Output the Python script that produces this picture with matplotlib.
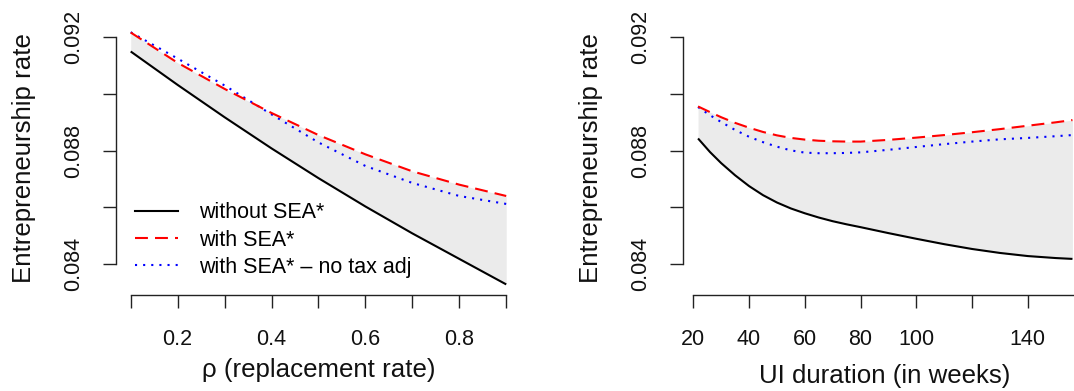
import matplotlib
matplotlib.use("Agg")
import matplotlib.pyplot as plt
from matplotlib.lines import Line2D

plt.rcParams['font.family'] = ['Liberation Sans', 'DejaVu Sans']

# ---------------- data ----------------
rho = [0.1, 0.2, 0.3, 0.4, 0.5, 0.6, 0.7, 0.8, 0.9]
rho_without = [0.09150, 0.09032, 0.08918, 0.08808, 0.08703, 0.08603, 0.08508, 0.08418, 0.08328]
rho_with = [0.09217, 0.09110, 0.09018, 0.08933, 0.08855, 0.08787, 0.08727, 0.08680, 0.08640]
rho_notax = [0.09218, 0.09125, 0.09030, 0.08928, 0.08829, 0.08746, 0.08686, 0.08640, 0.08612]

weeks = [21.7, 26, 30, 35, 40, 45, 50, 55, 60, 65, 70, 75, 80, 90, 100, 110, 120, 130, 140, 150, 156]
wk_without = [0.08843, 0.08795, 0.08756, 0.08713, 0.08675, 0.08643, 0.08617, 0.08596, 0.08579, 0.08564,
              0.08551, 0.08540, 0.08530, 0.08509, 0.08489, 0.08470, 0.08453, 0.08439, 0.08428, 0.08421, 0.08418]
wk_with = [0.08956, 0.08936, 0.08918, 0.08898, 0.08881, 0.08866, 0.08854, 0.08845, 0.08839, 0.08835,
           0.08833, 0.08832, 0.08832, 0.08838, 0.08846, 0.08855, 0.08865, 0.08876, 0.08888, 0.08900, 0.08908]
wk_notax = [0.08954, 0.08925, 0.08901, 0.08873, 0.08849, 0.08830, 0.08814, 0.08801, 0.08793, 0.08791,
            0.08791, 0.08792, 0.08794, 0.08803, 0.08813, 0.08823, 0.08832, 0.08840, 0.08845, 0.08851, 0.08855]

y_ticks = [0.084, 0.086, 0.088, 0.090, 0.092]
y_ticklabels = ['0.084', '', '0.088', '', '0.092']
rho_ticks = [0.1, 0.2, 0.3, 0.4, 0.5, 0.6, 0.7, 0.8, 0.9]
rho_ticklabels = ['', '0.2', '', '0.4', '', '0.6', '', '0.8', '']
wk_ticks = [20, 40, 60, 80, 100, 120, 140, 160]
wk_ticklabels = ['20', '40', '60', '80', '100', '', '140', '']

legend_labels = ['without SEA*', 'with SEA*', 'with SEA* \u2013 no tax adj']

# ---------------- figure ----------------
W, H = 1074, 391
fig = plt.figure(figsize=(W / 100, H / 100), dpi=100)

FILL = '#ebebeb'
RED = '#ff0000'
BLUE = '#0000ff'
LW = 1.5
TICK_FS = 15.5
LAB_FS = 18.6


def px_axes(x0, x1, ytop, ybot):
    return fig.add_axes([x0 / W, 1 - ybot / H, (x1 - x0) / W, (ybot - ytop) / H])


def style(ax, xb, x0px, x1px):
    for s in ['top', 'right']:
        ax.spines[s].set_visible(False)
    ax.spines['left'].set_bounds(0.084, 0.092)
    ax.spines['bottom'].set_bounds(*xb)
    for s in ['left', 'bottom']:
        ax.spines[s].set_linewidth(1.0)
        ax.spines[s].set_color('#222222')
    ax.set_yticks(y_ticks)
    ax.set_yticklabels(y_ticklabels)
    ax.tick_params(axis='both', direction='out', length=9.6, width=1.0, color='#222222',
                   labelsize=TICK_FS, labelcolor='#111111')
    ax.tick_params(axis='x', pad=15)
    ax.tick_params(axis='y', pad=13, labelrotation=90)
    for lab in ax.get_yticklabels():
        lab.set_va('center')
    ax.set_ylim(0.082906, 0.092611)
    ax.set_ylabel('Entrepreneurship rate', fontsize=LAB_FS, color='#111111')
    width = x1px - x0px
    ax.yaxis.set_label_coords(-80.0 / width, (295 - 158) / 275)


def draw(ax, x, a, b, c):
    ax.fill_between(x, a, b, color=FILL, lw=0, zorder=1)
    ax.plot(x, a, color='black', lw=LW, zorder=3, solid_capstyle='butt')
    ax.plot(x, c, color=BLUE, lw=LW, dashes=(1, 2.9), dash_capstyle='butt', zorder=3)
    ax.plot(x, b, color=RED, lw=LW, dashes=(6.2, 3.4), dash_capstyle='butt', zorder=4)


# left panel
ax1 = px_axes(115.7, 521.0, 20, 295)
draw(ax1, rho, rho_without, rho_with, rho_notax)
ax1.set_xlim(0.06804, 0.93148)
ax1.set_xticks(rho_ticks)
ax1.set_xticklabels(rho_ticklabels)
style(ax1, (0.1, 0.9), 115.7, 521.0)
ax1.set_xlabel('\u03c1 (replacement rate)', fontsize=LAB_FS, color='#111111')
ax1.xaxis.set_label_coords(0.5, (295 - 377) / 275)
ax1.xaxis.label.set_va('baseline')

handles = [Line2D([], [], color='black', lw=LW),
           Line2D([], [], color=RED, lw=LW, dashes=(6.2, 3.4)),
           Line2D([], [], color=BLUE, lw=LW, dashes=(1, 2.9))]
ax1.legend(handles, legend_labels, loc='center left',
           bbox_to_anchor=((135 - 115.7) / 405.3, (295 - 240) / 275),
           frameon=False, fontsize=TICK_FS, handlelength=2.0, handletextpad=0.96,
           labelspacing=0.3, borderpad=0, borderaxespad=0)

# right panel
ax2 = px_axes(682.7, 1087.5, 20, 295)
draw(ax2, weeks, wk_without, wk_with, wk_notax)
ax2.set_xlim(16.197, 161.4)
ax2.set_xticks(wk_ticks)
ax2.set_xticklabels(wk_ticklabels)
style(ax2, (20, 160), 682.7, 1087.5)
ax2.set_xlabel('UI duration (in weeks)', fontsize=LAB_FS, color='#111111')
ax2.xaxis.set_label_coords(0.5, (295 - 383) / 275)
ax2.xaxis.label.set_va('baseline')

fig.savefig('out.png', dpi=100)
